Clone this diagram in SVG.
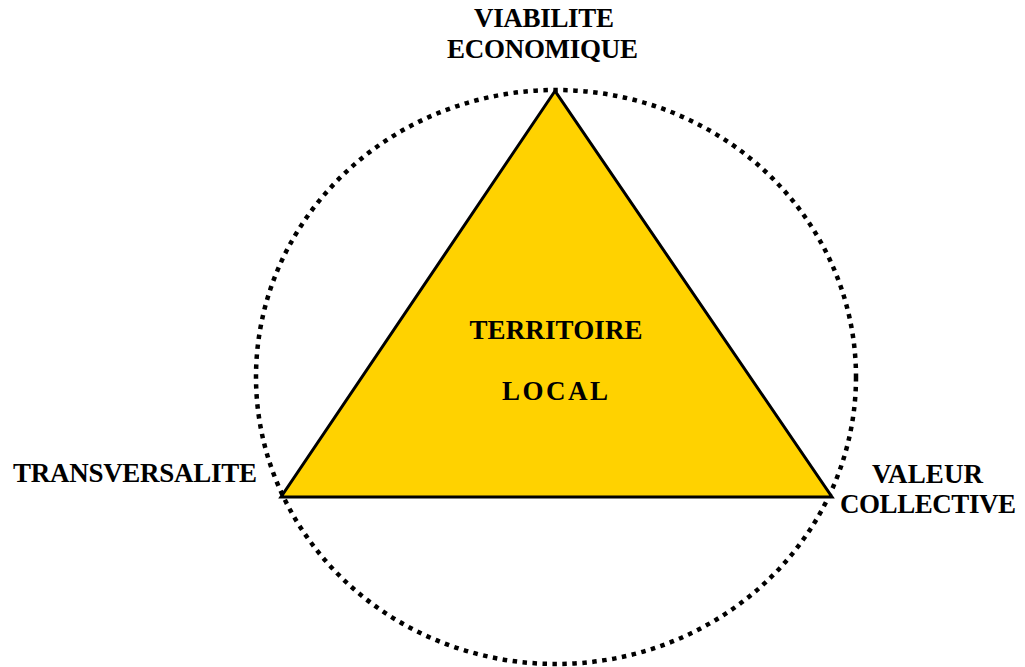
<svg xmlns="http://www.w3.org/2000/svg" width="1025" height="667" viewBox="0 0 1025 667">
  <style>
    .lbl { font-family: "Liberation Serif", "Times New Roman", serif; font-weight: bold; font-size: 27px; fill: #000; text-anchor: middle; }
  </style>
  <rect width="1025" height="667" fill="#fff"/>
  <g id="connectors">
    <ellipse id="ring" cx="556" cy="377" rx="300" ry="287" fill="none" stroke="#000" stroke-width="4.5" stroke-dasharray="4.5 5.5"/>
  </g>
  <g id="territoire">
    <polygon points="555,91 281,497 832,497" fill="#FFD200" stroke="#000" stroke-width="3" stroke-linejoin="miter"/>
    <text class="lbl" x="556" y="339" textLength="173" lengthAdjust="spacing">TERRITOIRE</text>
    <text class="lbl" x="555" y="400" textLength="106" lengthAdjust="spacing">LOCAL</text>
  </g>
  <g id="viabilite">
    <text class="lbl" x="544" y="27" textLength="140" lengthAdjust="spacing">VIABILITE</text>
    <text class="lbl" x="542.5" y="58" textLength="191" lengthAdjust="spacing">ECONOMIQUE</text>
  </g>
  <g id="transversalite">
    <text class="lbl" x="135" y="482" textLength="244" lengthAdjust="spacing">TRANSVERSALITE</text>
  </g>
  <g id="valeur">
    <text class="lbl" x="927.5" y="483" textLength="111" lengthAdjust="spacing">VALEUR</text>
    <text class="lbl" x="928" y="513" textLength="176" lengthAdjust="spacing">COLLECTIVE</text>
  </g>
</svg>
